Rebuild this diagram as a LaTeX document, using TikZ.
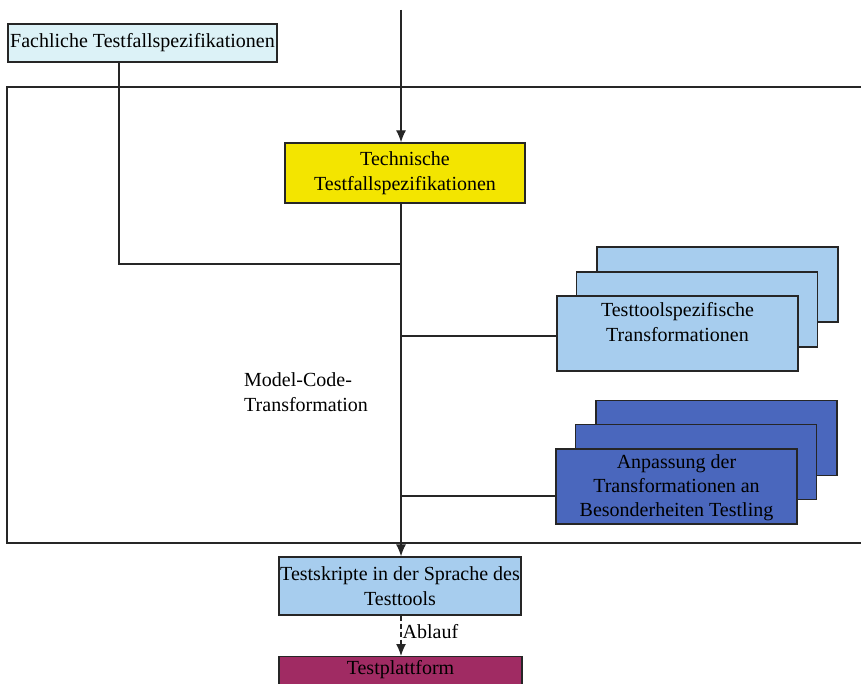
\documentclass[tikz,border=0pt]{standalone}
\usepackage{fontspec}
\setmainfont{Liberation Serif}
\usetikzlibrary{arrows.meta}
\definecolor{fachc}{HTML}{DCF2F7}
\definecolor{yelc}{HTML}{F3E500}
\definecolor{lbluec}{HTML}{A7CDEE}
\definecolor{mbluec}{HTML}{4A67BD}
\definecolor{magc}{HTML}{A02B63}
\definecolor{linec}{HTML}{262626}
\tikzset{
  box/.style={draw=linec, line width=1.3pt, inner sep=1pt, align=center,
    font=\fontsize{20}{25}\selectfont},
  conn/.style={draw=linec, line width=1.3pt},
  arr/.style={conn, -{Latex[length=12pt,width=10pt]}},
}
\begin{document}
\begin{tikzpicture}[x=1pt,y=-1pt]
\useasboundingbox (0,0) rectangle (861,684);
\clip (0,0) rectangle (861,684);
\fill[white] (0,0) rectangle (861,684);
% outer frame
\draw[conn] (7,87) rectangle (875,543);
% nodes
\node[box, fill=fachc, minimum width=269pt, minimum height=38pt] (fach) at (142.5,43) {Fachliche Testfallspezifikationen};
\node[box, fill=yelc, minimum width=240pt, minimum height=60pt] (tech) at (405,173) {Technische\\Testfallspezifikationen};
% stack 1
\node[box, fill=lbluec, minimum width=241pt, minimum height=75pt] (s1c) at (717.5,284.5) {};
\node[box, fill=lbluec, minimum width=241pt, minimum height=75pt] (s1b) at (697,309.5) {};
\node[box, fill=lbluec, minimum width=241pt, minimum height=75pt, anchor=center] (s1a) at (677.5,333.5) {};
\node[font=\fontsize{20}{25}\selectfont, align=center, anchor=north] (s1t) at (677.5,299) {Testtoolspezifische\\Transformationen};
% stack 2
\node[box, fill=mbluec, minimum width=241pt, minimum height=75pt] (s2c) at (716.5,438) {};
\node[box, fill=mbluec, minimum width=241pt, minimum height=75pt] (s2b) at (696,462) {};
\node[box, fill=mbluec, minimum width=241pt, minimum height=75pt] (s2a) at (676.5,486.5) {};
\node[font=\fontsize{20}{24}\selectfont, align=center, anchor=north] (s2t) at (676.5,451) {Anpassung der\\Transformationen an\\Besonderheiten Testling};
% text
\node[font=\fontsize{20}{25}\selectfont, align=left, anchor=north west, inner sep=0pt] (mct) at (244,372) {Model-Code-\\Transformation};
\node[box, fill=lbluec, minimum width=242pt, minimum height=58pt] (skr) at (400,586) {Testskripte in der Sprache des\\Testtools};
\node[box, fill=magc, minimum width=243pt, minimum height=50pt, anchor=north] (plat) at (400.5,656) {};
\node[font=\fontsize{20}{25}\selectfont, anchor=north] (platt) at (400.5,657) {Testplattform};
% coordinates
\coordinate (top) at (401,10);
\coordinate (fx) at (119,62);
\coordinate (j1) at (401,264);
\coordinate (j2) at (401,336);
\coordinate (j3) at (401,496);
% connectors
\draw[arr] (top) -- (top |- tech.north);
\draw[conn] (fx) -- (fx |- j1) -- (j1);
\draw[arr] (top |- tech.south) -- (top |- skr.north);
\draw[conn] (j2) -- (j2 -| s1a.west);
\draw[conn] (j3) -- (j3 -| s2a.west);
\draw[arr, dash pattern=on 5pt off 3pt] (top |- skr.south) -- node[right, pos=0.4, inner sep=1pt, font=\fontsize{20}{25}\selectfont] (abl) {Ablauf} (top |- plat.north);
\end{tikzpicture}
\end{document}
